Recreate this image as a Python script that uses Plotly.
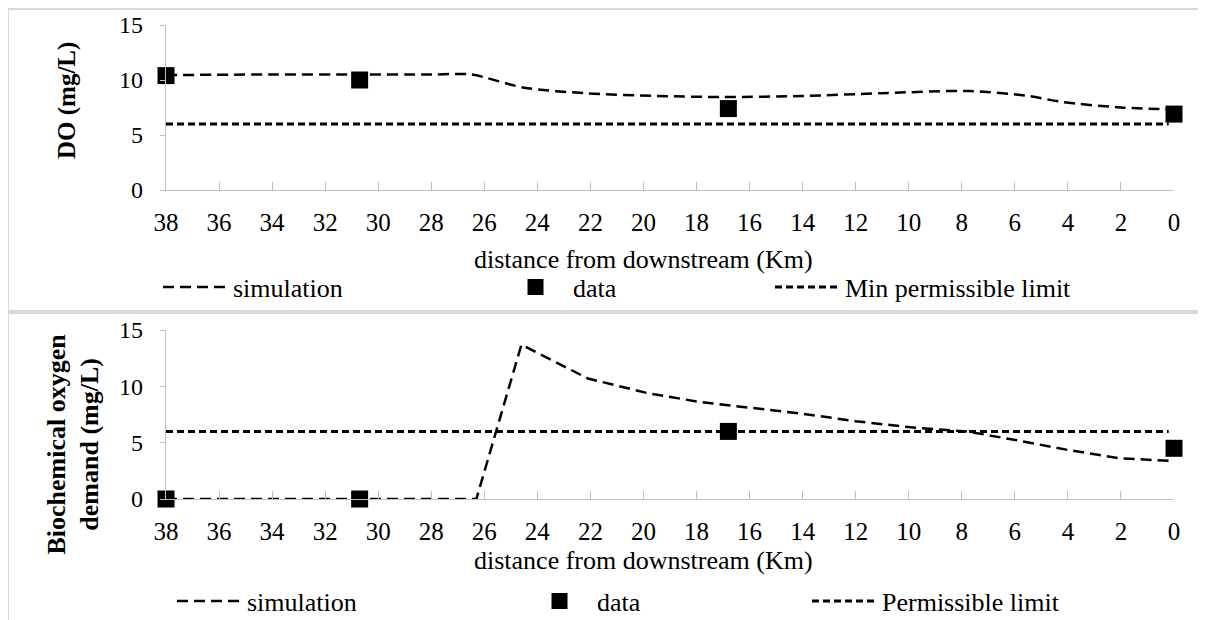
import plotly.graph_objects as go

W, H = 1198, 612  # page body adds an 8px margin

# ---------------- data ----------------
do_sim_km = [38, 34, 30.7, 28, 26.5, 24.5, 22.2, 19.5, 17, 14, 11, 7.7, 5.5, 4.2, 2.0, 0.2]
do_sim_val = [10.45, 10.5, 10.5, 10.5, 10.5, 9.3, 8.8, 8.55, 8.45, 8.55, 8.8, 9.0, 8.55, 8.0, 7.5, 7.35]
do_data_km = [38, 30.7, 16.8, 0]
do_data_val = [10.4, 10.0, 7.4, 6.9]
do_limit_km = [38, 0.2]
do_limit_val = [6, 6]

bod_sim_km = [38, 30.7, 26.3, 24.6, 22.1, 19.85, 17.85, 14.1, 12, 9.66, 7.8, 5.9, 4.0, 2.0, 0.2]
bod_sim_val = [0, 0, 0, 13.7, 10.7, 9.4, 8.6, 7.6, 6.9, 6.3, 6.0, 5.2, 4.35, 3.6, 3.4]
bod_data_km = [38, 30.7, 16.8, 0]
bod_data_val = [0, 0, 6.0, 4.5]
bod_limit_km = [38, 0.2]
bod_limit_val = [6, 6]

x_ticks = list(range(0, 39, 2))
y_ticks = [0, 5, 10, 15]

FONT = "Liberation Serif, serif"
AX = "#bfbfbf"


def px(x):
    return (x - 8) / W


def py(y):
    return 1 - (y - 8) / H


fig = go.Figure()

sim_line = dict(color="black", width=2.5, dash="11px,6px")
lim_line = dict(color="black", width=3, dash="7px,4px")
mk = dict(symbol="square", size=17, color="black")

# top panel
fig.add_trace(go.Scatter(x=do_sim_km, y=do_sim_val, mode="lines", line=dict(sim_line, shape="spline", smoothing=0.8),
                         name="simulation", xaxis="x", yaxis="y", legend="legend", showlegend=True, cliponaxis=False))
fig.add_trace(go.Scatter(x=do_data_km, y=do_data_val, mode="markers", marker=mk,
                         name="data", xaxis="x", yaxis="y", legend="legend2", showlegend=True, cliponaxis=False))
fig.add_trace(go.Scatter(x=do_limit_km, y=do_limit_val, mode="lines", line=lim_line,
                         name="Min permissible limit", xaxis="x", yaxis="y", legend="legend3", showlegend=True,
                         cliponaxis=False))
# bottom panel
fig.add_trace(go.Scatter(x=bod_sim_km, y=bod_sim_val, mode="lines", line=sim_line,
                         name="simulation", xaxis="x2", yaxis="y2", legend="legend4", showlegend=True, cliponaxis=False))
fig.add_trace(go.Scatter(x=bod_data_km, y=bod_data_val, mode="markers", marker=mk,
                         name="data", xaxis="x2", yaxis="y2", legend="legend5", showlegend=True, cliponaxis=False))
fig.add_trace(go.Scatter(x=bod_limit_km, y=bod_limit_val, mode="lines", line=lim_line,
                         name="Permissible limit", xaxis="x2", yaxis="y2", legend="legend6", showlegend=True,
                         cliponaxis=False))

xdom = [px(166), px(1174)]
top_dom = [py(190), py(25)]
bot_dom = [py(499), py(330)]

xax = dict(range=[38, 0], tickvals=x_ticks, showline=True, linecolor=AX, linewidth=1.3,
           ticks="inside", ticklen=8, tickcolor=AX, tickwidth=1.3, showgrid=False, zeroline=False,
           tickfont=dict(family=FONT, size=25, color="black"), ticklabelstandoff=10, domain=xdom,
           automargin=False)
yax = dict(range=[0, 15], tickvals=y_ticks, showline=True, linecolor=AX, linewidth=1.3,
           ticks="outside", ticklen=5, tickcolor=AX, tickwidth=1.3, showgrid=False, zeroline=False,
           tickfont=dict(family=FONT, size=24, color="black"), ticklabelstandoff=12, automargin=False)

fig.update_layout(
    width=W, height=H, margin=dict(l=0, r=0, t=0, b=0, autoexpand=False),
    paper_bgcolor="white", plot_bgcolor="white", showlegend=True,
    font=dict(family=FONT, color="black"),
    xaxis=dict(xax, anchor="y"),
    yaxis=dict(yax, domain=top_dom, anchor="x"),
    xaxis2=dict(xax, anchor="y2"),
    yaxis2=dict(yax, domain=bot_dom, anchor="x2"),
)

leg = dict(orientation="h", xanchor="left", yanchor="middle", bgcolor="rgba(0,0,0,0)",
           font=dict(family=FONT, size=26, color="black"), itemclick=False, itemwidth=65)
fig.update_layout(
    legend=dict(leg, x=px(158), y=py(287)),
    legend2=dict(leg, x=px(498), y=py(287)),
    legend3=dict(leg, x=px(770), y=py(287)),
    legend4=dict(leg, x=px(172), y=py(601)),
    legend5=dict(leg, x=px(522), y=py(601)),
    legend6=dict(leg, x=px(807), y=py(601)),
)

# axis titles
for yc in (259, 560):
    fig.add_annotation(text="distance from downstream (Km)", xref="paper", yref="paper",
                       x=px(643), y=py(yc), showarrow=False, xanchor="center", yanchor="middle",
                       font=dict(family=FONT, size=26, color="black"))
fig.add_annotation(text="<b>DO (mg/L)</b>", xref="paper", yref="paper", textangle=-90,
                   x=px(67), y=py(101), showarrow=False, xanchor="center", yanchor="middle",
                   font=dict(family=FONT, size=25, color="black"))
fig.add_annotation(text="<b>Biochemical oxygen<br>demand (mg/L)</b>", xref="paper", yref="paper", textangle=-90,
                   x=px(72.5), y=py(444), showarrow=False, xanchor="center", yanchor="middle",
                   font=dict(family=FONT, size=26, color="black"))

# chart-object borders
BORDER = "#d9d9d9"
fig.add_shape(type="rect", xref="paper", yref="paper", x0=px(8), x1=1.02, y0=py(311), y1=py(9),
              line=dict(color=BORDER, width=2))
fig.add_shape(type="rect", xref="paper", yref="paper", x0=px(8), x1=1.02, y0=-0.05, y1=py(313),
              line=dict(color=BORDER, width=2))

fig.write_html("out.html")
